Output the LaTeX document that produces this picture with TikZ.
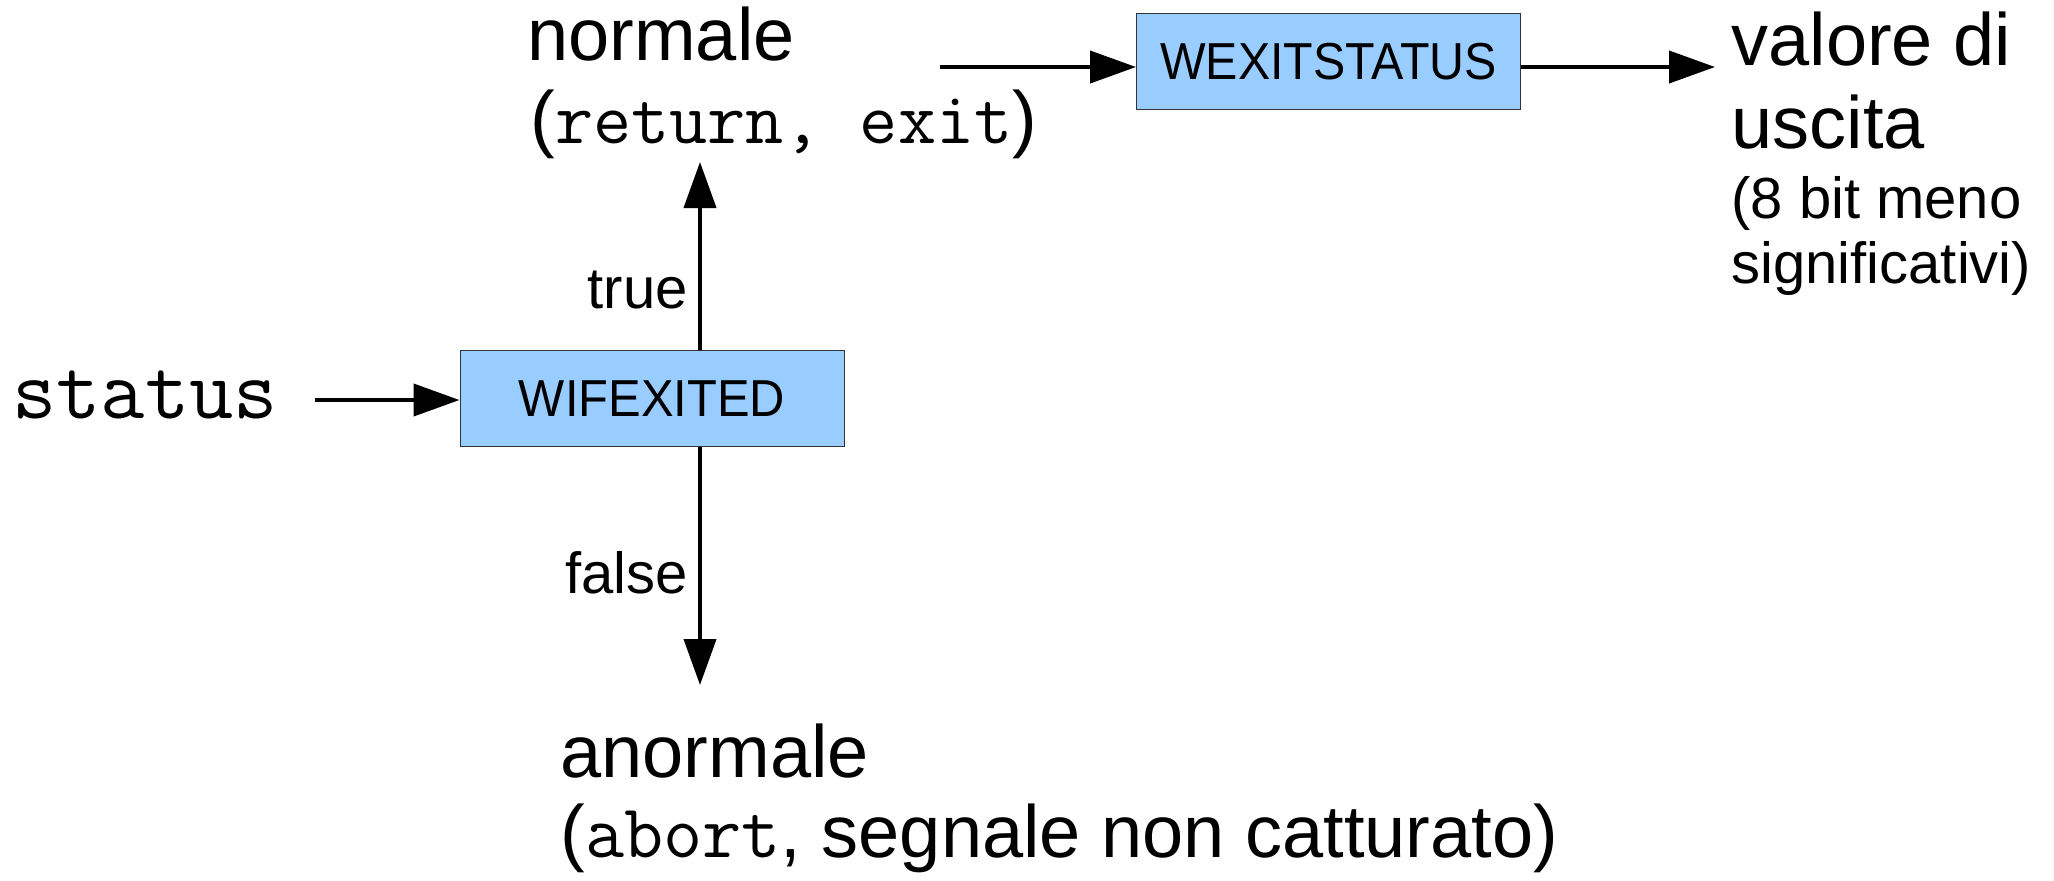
\documentclass[tikz,border=0pt]{standalone}
\usepackage{fontspec}
\setmainfont{Liberation Sans}
\usetikzlibrary{arrows.meta}
\definecolor{boxblue}{RGB}{153,204,255}
\definecolor{boxline}{RGB}{51,51,51}
\begin{document}
\begin{tikzpicture}[x=0.5pt,y=-0.5pt,
  big/.style={font=\fontsize{37}{44}\selectfont, inner sep=0pt},
  small/.style={font=\fontsize{29}{35}\selectfont, inner sep=0pt},
  fbox/.style={draw=boxline, line width=0.5pt, fill=boxblue, minimum width=192pt, minimum height=48pt, inner sep=0pt, font=\fontsize{26}{30}\selectfont},
  arr/.style={line width=2pt, -{Triangle[length=23pt,width=16pt]}}]
\useasboundingbox (0,0) rectangle (2054,880);
% nodes
\node[inner sep=0pt, anchor=base west, font=\fontsize{43}{50}\selectfont\ttfamily] (status) at (12,418) {status};
\node[fbox] (wif) at (652,398.5) {\scalebox{0.94}[1]{WIFEXITED}};
\node[fbox] (wex) at (1328.5,61.5) {\scalebox{0.93}[1]{WEXITSTATUS}};
\node[big, anchor=base west] (normale) at (527,60) {normale};
\node[big, anchor=base west] (retexit) at (530,143) {(\texttt{\fontsize{37}{44}\selectfont return, exit})};
\node[big, anchor=base west] (anormale) at (560,777) {anormale};
\node[big, anchor=base west] (abort) at (560,857) {(\texttt{\fontsize{38}{44}\selectfont abort}, segnale non catturato)};
\node[big, anchor=base west] (valore) at (1731,65) {valore di};
\node[big, anchor=base west] (uscita) at (1731,148) {uscita};
\node[small, anchor=base west] (bit) at (1731,218) {(8 bit meno};
\node[small, anchor=base west] (signif) at (1731,283) {significativi)};
\node[small, anchor=base east] (true) at (688,308) {true};
\node[small, anchor=base east] (false) at (688,593) {false};
% connector ends
\coordinate (sIn) at (315,400);
\coordinate (tUp) at (700,162);
\coordinate (tDown) at (700,685);
\coordinate (nOut) at (940,67);
\coordinate (vIn) at (1715,67);
% connectors
\draw[arr] (sIn) -- (sIn -| wif.west);
\draw[arr] (wif.north -| tUp) -- (tUp);
\draw[arr] (wif.south -| tDown) -- (tDown);
\draw[arr] (nOut) -- (nOut -| wex.west);
\draw[arr] (vIn -| wex.east) -- (vIn);
\end{tikzpicture}
\end{document}
